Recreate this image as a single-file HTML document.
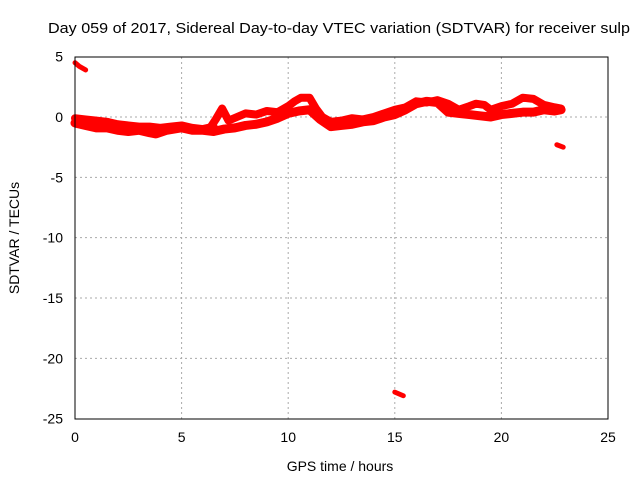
<!DOCTYPE html>
<html><head><meta charset="utf-8"><style>
body{margin:0;background:#fff}
svg{display:block;font-family:"Liberation Sans",sans-serif}
</style></head><body>
<svg width="640" height="480">
<g id="grid"></g>
<g id="series"></g>
<rect x="75" y="57" width="533" height="362" fill="none" stroke="#000"/>
<g id="ticks"></g>
<text x="339" y="33" font-size="15" text-anchor="middle" textLength="582" lengthAdjust="spacingAndGlyphs">Day 059 of 2017, Sidereal Day-to-day VTEC variation (SDTVAR) for receiver sulp</text>
<text x="340" y="471" font-size="14" text-anchor="middle">GPS time / hours</text>
<text transform="translate(19,238) rotate(-90)" font-size="14" text-anchor="middle">SDTVAR / TECUs</text>
</svg>
<script>
const xTicks=[0,5,10,15,20,25];
const yTicks=[5,0,-5,-10,-15,-20,-25];
const hoursA=[0,0.5,1,1.5,2,2.5,3,3.5,3.8,4.3,5,5.5,6,6.5,7,7.5,8,8.5,9,9.5,10,10.5,11,11.5,12,12.5,13,13.5,14,14.5,15,15.5,16,16.5,17,17.5,18,18.5,19,19.5,20,20.5,21,21.5,22,22.5,22.8];
const valuesA=[-0.5,-0.7,-0.9,-0.9,-1.1,-1.2,-1.1,-1.3,-1.4,-1.1,-0.9,-1.1,-1.1,-1.2,-1.0,-0.9,-0.7,-0.6,-0.4,-0.1,0.3,0.5,0.6,-0.2,-0.8,-0.7,-0.6,-0.4,-0.3,0.0,0.2,0.6,1.1,1.3,1.2,0.4,0.3,0.2,0.1,0.0,0.2,0.3,0.4,0.4,0.6,0.5,0.6];
const hoursB=[6.3,6.6,6.9,7.2,7.6,8,8.5,9,9.5,10,10.3,10.6,11,11.3,11.6,12,12.5,13,13.5,14,14.5,15,15.5,16,16.5,17,17.5,18,18.5,18.8,19.2,19.5,20,20.5,21,21.5,22,22.5,22.8];
const valuesB=[-1.0,-0.2,0.7,-0.3,0.0,0.3,0.2,0.5,0.4,0.9,1.3,1.6,1.6,0.7,0.0,-0.4,-0.3,-0.1,-0.2,0.0,0.3,0.6,0.8,1.3,1.2,1.4,1.1,0.6,0.9,1.1,1.0,0.6,0.9,1.1,1.6,1.5,1.0,0.8,0.7];
const hoursC=[0,0.5,1,1.5,2,2.5,3,3.5,4,4.5,5,5.5,6,6.5];
const valuesC=[-0.1,-0.2,-0.3,-0.4,-0.6,-0.7,-0.8,-0.8,-0.9,-0.8,-0.7,-0.9,-1.0,-0.8];
const hoursO1=[0,0.2,0.5];const valuesO1=[4.5,4.2,3.9];
const hoursO2=[22.6,22.9];const valuesO2=[-2.3,-2.5];
const hoursO3=[15,15.4];const valuesO3=[-22.8,-23.1];
const X=h=>75+h*533/25, Y=v=>117-v*362/30;
const NS="http://www.w3.org/2000/svg";
const grid=document.getElementById('grid'),ticks=document.getElementById('ticks'),ser=document.getElementById('series');
function mk(tag,at,p){const e=document.createElementNS(NS,tag);for(const k in at)e.setAttribute(k,at[k]);p.appendChild(e);return e;}
xTicks.forEach(t=>{const x=X(t);
 if(t>0&&t<25){const l=mk('line',{x1:x,x2:x,y1:57,y2:419,stroke:'#aaa','stroke-dasharray':'2,3'},grid);
 
 }
 const tx=mk('text',{x:x,y:442,'font-size':14,'text-anchor':'middle'},ticks);tx.textContent=t;
 
 });
yTicks.forEach(t=>{const y=Y(t);
 if(t<5&&t>-25){const l=mk('line',{x1:75,x2:608,y1:y,y2:y,stroke:'#aaa','stroke-dasharray':'2,3'},grid);
 
 }
 const tx=mk('text',{x:63,y:y+5,'font-size':14,'text-anchor':'end'},ticks);tx.textContent=t;
 
 });
[[hoursA,valuesA,9],[hoursB,valuesB,8],[hoursC,valuesC,8],[hoursO1,valuesO1,5],[hoursO2,valuesO2,5],[hoursO3,valuesO3,5]].forEach(([h,v,w])=>{
 const p=mk('polyline',{points:h.map((t,i)=>X(t)+','+Y(v[i])).join(' '),fill:'none',stroke:'#f00','stroke-width':w,'stroke-linejoin':'round','stroke-linecap':'round'},ser);
 
 });
</script>
</body></html>
